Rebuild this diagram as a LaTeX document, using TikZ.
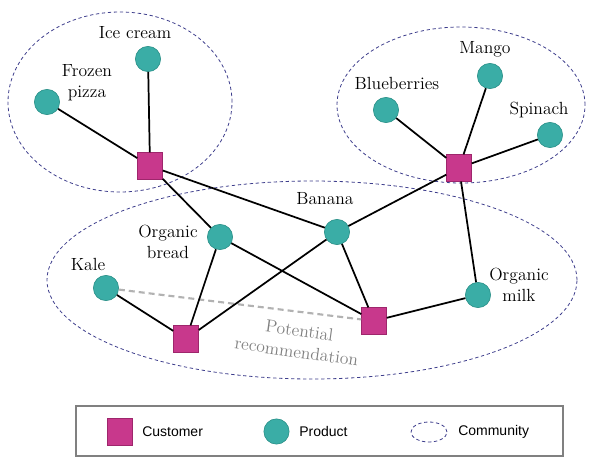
\documentclass[tikz,border=0pt]{standalone}
\usepackage{fontspec}
\newfontfamily\legendfont{Liberation Sans}
\definecolor{custfill}{RGB}{200,56,140}
\definecolor{custline}{RGB}{158,38,108}
\definecolor{prodfill}{RGB}{58,173,166}
\definecolor{prodline}{RGB}{38,140,132}
\definecolor{commline}{RGB}{62,62,140}
\begin{document}
\begin{tikzpicture}[x=0.75pt, y=-0.75pt,
    customer/.style={rectangle, draw=custline, fill=custfill, minimum width=18.75pt, minimum height=20pt, inner sep=0pt},
    product/.style={circle, draw=prodline, fill=prodfill, minimum size=19pt, inner sep=0pt},
    community/.style={draw=commline, line width=0.6pt, dash pattern=on 2.5pt off 2pt},
    edge/.style={black, line width=1.3pt},
    recline/.style={gray!60, line width=1.6pt, dash pattern=on 4.5pt off 3pt},
    lbl/.style={font=\fontsize{13.2}{16}\selectfont, align=center, inner sep=0pt},
    legendtext/.style={font=\legendfont\fontsize{10.5}{12}\selectfont, anchor=west, inner sep=0pt}]
    \useasboundingbox (0,0) rectangle (596,471);

    \draw[community] (120,102) ellipse [x radius=84pt, y radius=67.5pt];
    \draw[community] (461,105) ellipse [x radius=93pt, y radius=58.5pt];
    \draw[community] (312,280) ellipse [x radius=198.75pt, y radius=74.25pt];

    \node[product] (icecream) at (148,59) {};
    \node[product] (pizza) at (47,102) {};
    \node[product] (blueb) at (386,110) {};
    \node[product] (mango) at (490,76) {};
    \node[product] (spinach) at (550,135) {};
    \node[product] (banana) at (337,232) {};
    \node[product] (bread) at (220,237) {};
    \node[product] (kale) at (106,288) {};
    \node[product] (milk) at (478,295) {};

    \node[customer] (cust1) at (150,166) {};
    \node[customer] (cust2) at (459,168) {};
    \node[customer] (cust3) at (186,339) {};
    \node[customer] (cust4) at (374,321) {};

    \draw[recline] (kale) -- (cust4);

    \draw[edge] (cust1) -- (icecream);
    \draw[edge] (cust1) -- (pizza);
    \draw[edge] (cust1) -- (banana);
    \draw[edge] (cust1) -- (bread);
    \draw[edge] (cust2) -- (blueb);
    \draw[edge] (cust2) -- (mango);
    \draw[edge] (cust2) -- (spinach);
    \draw[edge] (cust2) -- (banana);
    \draw[edge] (cust2) -- (milk);
    \draw[edge] (cust3) -- (kale);
    \draw[edge] (cust3) -- (bread);
    \draw[edge] (cust3) -- (banana);
    \draw[edge] (cust4) -- (bread);
    \draw[edge] (cust4) -- (banana);
    \draw[edge] (cust4) -- (milk);

    \node[lbl] (icecreamlbl) at (135,33) {Ice cream};
    \node[lbl] (pizzalbl) at (87,83) {Frozen\\pizza};
    \node[lbl] (bluelbl) at (397,83) {Blueberries};
    \node[lbl] (mangolbl) at (485,49) {Mango};
    \node[lbl] (spinachlbl) at (539,110) {Spinach};
    \node[lbl] (bananalbl) at (325,199) {Banana};
    \node[lbl] (breadlbl) at (168,242) {Organic\\bread};
    \node[lbl] (kalelbl) at (88,264) {Kale};
    \node[lbl] (milklbl) at (519,285) {Organic\\milk};
    \node[lbl, text=gray, rotate=-8] (reclbl) at (298,341) {Potential\\recommendation};

    \draw[gray, line width=0.8pt] (76,406) rectangle (563,456);
    \node[customer] (legcust) at (119.5,431.5) {};
    \node[legendtext] (legcusttxt) at (142,431.5) {Customer};
    \node[product] (legprod) at (276.5,431.5) {};
    \node[legendtext] (legprodtxt) at (299,431.5) {Product};
    \draw[community] (429,432) ellipse [x radius=13.5pt, y radius=7.5pt];
    \node[legendtext] (legcommtxt) at (458,431.5) {Community};
\end{tikzpicture}
\end{document}
